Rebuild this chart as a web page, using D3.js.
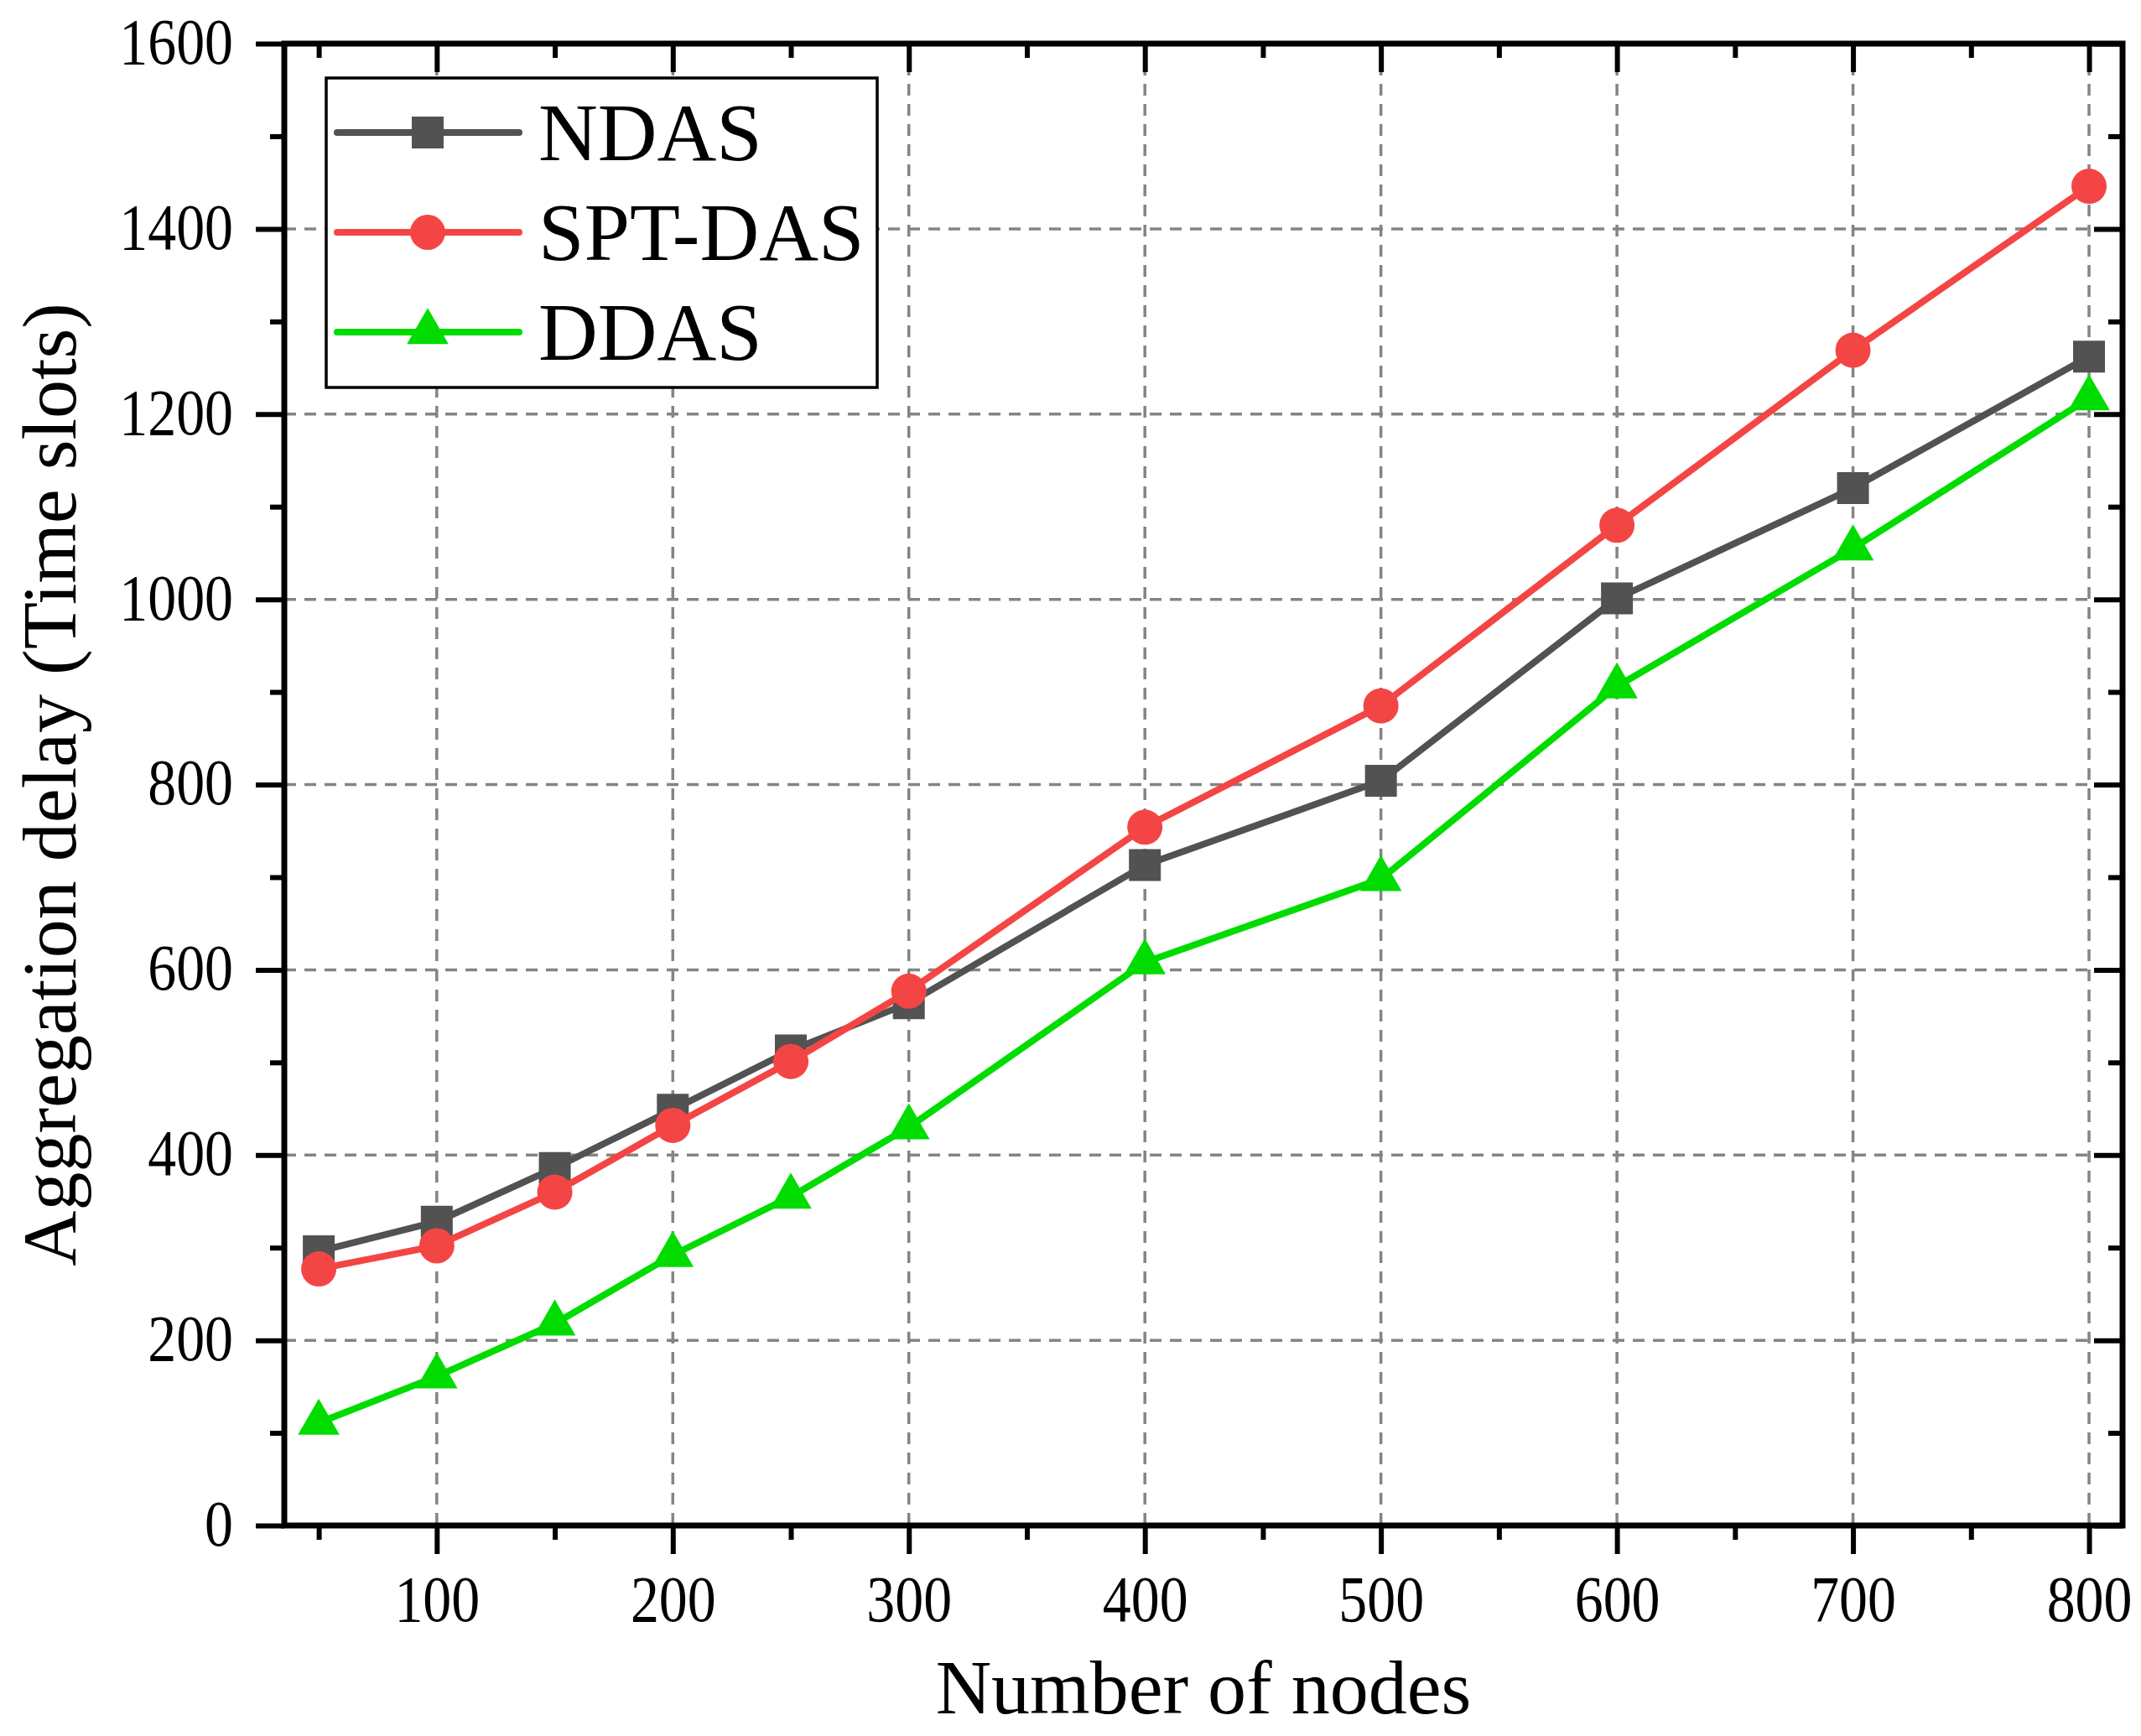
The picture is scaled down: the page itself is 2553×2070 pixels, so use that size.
<html>
<head>
  <meta charset="utf-8">
  <title>Aggregation delay</title>
  <script src="https://cdn.jsdelivr.net/npm/d3@7/dist/d3.min.js"></script>
  <style>
    body { margin: 0; background: #ffffff; }
    text { font-family: "Liberation Serif", "Times New Roman", serif; fill: #000000; }
    .grid line { stroke: #848484; stroke-width: 3.5; stroke-dasharray: 14,10; }
    .tick line { stroke: #000000; stroke-width: 6; }
  </style>
</head>
<body>
<script>
// data
var nodes = [50, 100, 150, 200, 250, 300, 400, 500, 600, 700, 800];
var ndas = [296, 328, 386, 449, 513, 564, 713, 804, 1001, 1120, 1262];
var sptdas = [277, 302, 360, 432, 501, 577, 754, 885, 1080, 1269, 1446];
var ddas = [111, 161, 218, 292, 355, 430, 608, 698, 906, 1055, 1217];
var seriesNames = ['NDAS', 'SPT-DAS', 'DDAS'];
var xMajor = [100, 200, 300, 400, 500, 600, 700, 800];
var xMinor = [50, 150, 250, 350, 450, 550, 650, 750];
var yMajor = [0, 200, 400, 600, 800, 1000, 1200, 1400, 1600];
var yMinor = [100, 300, 500, 700, 900, 1100, 1300, 1500];

var colors = ['#525252', '#f44545', '#00dc00'];
var shapes = [d3.symbolSquare, d3.symbolCircle, d3.symbolTriangle];
var shapeSizes = [1444, 1385, 1067];

var W = 2553, H = 2070;
var pLeft = 339, pRight = 2531, pTop = 52, pBottom = 1819;

var svg = d3.select('body').append('svg')
  .attr('width', W)
  .attr('height', H);
svg.append('rect').attr('width', W).attr('height', H).attr('fill', '#ffffff');

var x = d3.scaleLinear().domain([35.4, 814.2]).range([pLeft, pRight]);
var y = d3.scaleLinear().domain([0, 1600]).range([pBottom, pTop]);

// squeeze text horizontally a bit, the original glyphs are narrow
function squeeze(sel, f) {
  sel.each(function() {
    var w = this.getComputedTextLength();
    d3.select(this).attr('textLength', w * f).attr('lengthAdjust', 'spacingAndGlyphs');
  });
}

// grid
var grid = svg.append('g').attr('class', 'grid');
grid.selectAll('.gx')
  .data(xMajor).enter().append('line')
  .attr('x1', function(d) { return x(d); })
  .attr('x2', function(d) { return x(d); })
  .attr('y1', pTop).attr('y2', pBottom);
grid.selectAll('.gy')
  .data(yMajor.slice(1, -1)).enter().append('line')
  .attr('x1', pLeft).attr('x2', pRight)
  .attr('y1', function(d) { return y(d); })
  .attr('y2', function(d) { return y(d); });

// series
var allSeries = [ndas, sptdas, ddas];
var line = d3.line()
  .x(function(d, i) { return x(nodes[i]); })
  .y(function(d) { return y(d); });

allSeries.forEach(function(vals, k) {
  var g = svg.append('g');
  g.append('path')
    .datum(vals)
    .attr('d', line)
    .attr('fill', 'none')
    .attr('stroke', colors[k])
    .attr('stroke-width', 8)
    .attr('stroke-linejoin', 'round');
  g.selectAll('path.pt')
    .data(vals).enter().append('path')
    .attr('class', 'pt')
    .attr('d', d3.symbol().type(shapes[k]).size(shapeSizes[k]))
    .attr('transform', function(d, i) { return 'translate(' + x(nodes[i]) + ',' + y(d) + ')'; })
    .attr('fill', colors[k]);
});

// axes
function styleAxis(g) {
  g.select('.domain').remove();
  g.selectAll('.tick text').style('font-size', '78px');
}

var xAxis = svg.append('g')
  .attr('transform', 'translate(0,' + pBottom + ')')
  .call(d3.axisBottom(x).tickValues(xMajor).tickSize(34).tickSizeOuter(0).tickFormat(d3.format('d')));
styleAxis(xAxis);
xAxis.selectAll('.tick text').attr('y', 114).attr('dy', 0);
svg.append('g')
  .attr('transform', 'translate(0,' + pBottom + ')')
  .call(d3.axisBottom(x).tickValues(xMinor).tickSize(17).tickSizeOuter(0).tickFormat(''))
  .call(styleAxis);

var yAxis = svg.append('g')
  .attr('transform', 'translate(' + pLeft + ',0)')
  .call(d3.axisLeft(y).tickValues(yMajor).tickSize(34).tickSizeOuter(0).tickFormat(d3.format('d')));
styleAxis(yAxis);
yAxis.selectAll('.tick text').attr('x', -61).attr('dy', '0.3em');
svg.append('g')
  .attr('transform', 'translate(' + pLeft + ',0)')
  .call(d3.axisLeft(y).tickValues(yMinor).tickSize(17).tickSizeOuter(0).tickFormat(''))
  .call(styleAxis);

// top and right axes, ticks pointing inward
svg.append('g')
  .attr('transform', 'translate(0,' + pTop + ')')
  .call(d3.axisTop(x).tickValues(xMajor).tickSize(-34).tickSizeOuter(0).tickFormat(''))
  .call(styleAxis);
svg.append('g')
  .attr('transform', 'translate(0,' + pTop + ')')
  .call(d3.axisTop(x).tickValues(xMinor).tickSize(-17).tickSizeOuter(0).tickFormat(''))
  .call(styleAxis);
svg.append('g')
  .attr('transform', 'translate(' + pRight + ',0)')
  .call(d3.axisRight(y).tickValues(yMajor).tickSize(-34).tickSizeOuter(0).tickFormat(''))
  .call(styleAxis);
svg.append('g')
  .attr('transform', 'translate(' + pRight + ',0)')
  .call(d3.axisRight(y).tickValues(yMinor).tickSize(-17).tickSizeOuter(0).tickFormat(''))
  .call(styleAxis);

squeeze(svg.selectAll('.tick text'), 0.87);

// frame
svg.append('rect')
  .attr('x', pLeft).attr('y', pTop)
  .attr('width', pRight - pLeft).attr('height', pBottom - pTop)
  .attr('fill', 'none')
  .attr('stroke', '#000000')
  .attr('stroke-width', 7);

// axis titles
svg.append('text')
  .attr('x', (pLeft + pRight) / 2)
  .attr('y', 2043)
  .attr('text-anchor', 'middle')
  .style('font-size', '92px')
  .text('Number of nodes');

svg.append('text')
  .attr('transform', 'translate(90,' + (pTop + pBottom) / 2 + ') rotate(-90)')
  .attr('text-anchor', 'middle')
  .style('font-size', '92px')
  .text('Aggregation delay (Time slots)');

// legend
var legend = svg.append('g');
legend.append('rect')
  .attr('x', 389).attr('y', 93)
  .attr('width', 657).attr('height', 369)
  .attr('fill', '#ffffff')
  .attr('stroke', '#000000')
  .attr('stroke-width', 3.5);

var rowY = [158, 277, 396];
var items = legend.selectAll('.item')
  .data(seriesNames).enter().append('g')
  .attr('class', 'item')
  .attr('transform', function(d, i) { return 'translate(0,' + rowY[i] + ')'; });
items.append('line')
  .attr('x1', 402).attr('x2', 619)
  .attr('y1', 0).attr('y2', 0)
  .attr('stroke', function(d, i) { return colors[i]; })
  .attr('stroke-width', 8)
  .attr('stroke-linecap', 'round');
items.append('path')
  .attr('d', function(d, i) { return d3.symbol().type(shapes[i]).size(shapeSizes[i])(); })
  .attr('transform', 'translate(510,0)')
  .attr('fill', function(d, i) { return colors[i]; });
items.append('text')
  .attr('x', 642)
  .attr('y', 33)
  .style('font-size', '98px')
  .text(function(d) { return d; });
</script>
</body>
</html>
